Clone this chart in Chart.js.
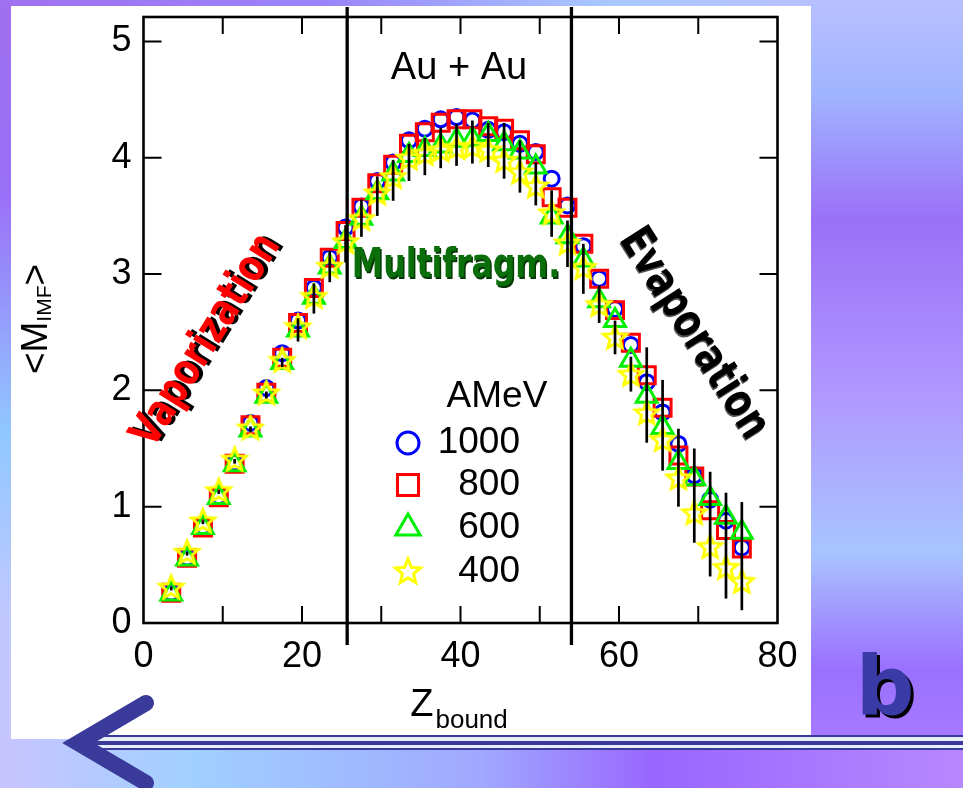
<!DOCTYPE html>
<html>
<head>
<meta charset="utf-8">
<script src="https://cdn.jsdelivr.net/npm/chart.js@4.4.1/dist/chart.umd.min.js"></script>
<style>
  html, body { margin: 0; padding: 0; overflow: hidden; background: #fff; }
  canvas { display: block; }
</style>
</head>
<body>
<canvas id="chart" width="963" height="788"></canvas>
<script>
// data: <M_IMF> vs Z_bound, Au + Au
const zBound = [3.5, 5.5, 7.5, 9.5, 11.5, 13.5, 15.5, 17.5, 19.5, 21.5, 23.5, 25.5, 27.5, 29.5, 31.5,
  33.5, 35.5, 37.5, 39.5, 41.5, 43.5, 45.5, 47.5, 49.5, 51.5, 53.5, 55.5, 57.5, 59.5, 61.5, 63.5,
  65.5, 67.5, 69.5, 71.5, 73.5, 75.5];
const m1000 = [0.26, 0.56, 0.83, 1.09, 1.38, 1.72, 2.02, 2.32, 2.60, 2.88, 3.14, 3.40, 3.58, 3.80, 3.96,
  4.15, 4.25, 4.33, 4.35, 4.32, 4.24, 4.22, 4.12, 4.05, 3.82, 3.59, 3.24, 2.96, 2.70, 2.39, 2.07,
  1.81, 1.54, 1.27, 1.06, 0.88, 0.65];
const m800 = [0.26, 0.56, 0.82, 1.08, 1.37, 1.70, 1.98, 2.28, 2.58, 2.88, 3.14, 3.37, 3.57, 3.78, 3.94,
  4.12, 4.22, 4.30, 4.33, 4.33, 4.27, 4.25, 4.15, 4.03, 3.66, 3.57, 3.26, 2.96, 2.69, 2.41, 2.13,
  1.85, 1.44, 1.26, 0.97, 0.80, 0.64];
const m600 = [0.25, 0.55, 0.82, 1.08, 1.36, 1.66, 1.95, 2.24, 2.52, 2.80, 3.06, 3.28, 3.48, 3.70, 3.86,
  4.02, 4.07, 4.10, 4.15, 4.16, 4.20, 4.12, 4.05, 3.92, 3.49, 3.32, 3.12, 2.77, 2.60, 2.26, 1.95,
  1.68, 1.38, 1.24, 1.07, 0.91, 0.78];
const m400 = [0.30, 0.60, 0.87, 1.13, 1.40, 1.67, 1.97, 2.25, 2.54, 2.80, 3.06, 3.27, 3.47, 3.69, 3.83,
  3.99, 4.03, 4.06, 4.08, 4.09, 4.06, 3.97, 3.87, 3.75, 3.52, 3.26, 3.05, 2.73, 2.45, 2.13, 1.80,
  1.57, 1.24, 0.94, 0.65, 0.47, 0.35];
// black error bars (top / bottom ends)
const errHigh = [0.31, 0.61, 0.88, 1.14, 1.41, 1.69, 1.99, 2.28, 2.62, 2.92, 3.20, 3.42, 3.64, 3.84, 3.98,
  4.12, 4.17, 4.26, 4.29, 4.32, 4.30, 4.30, 4.15, 3.96, 3.72, 3.46, 3.26, 2.90, 2.60, 2.29, 2.37,
  2.09, 1.67, 1.50, 1.30, 1.12, 1.04];
const errLow = [0.28, 0.58, 0.85, 1.11, 1.37, 1.64, 1.93, 2.20, 2.42, 2.66, 2.93, 3.10, 3.32, 3.50, 3.63,
  3.80, 3.85, 3.91, 3.93, 3.95, 3.92, 3.82, 3.70, 3.59, 3.32, 3.06, 2.83, 2.58, 2.31, 1.99, 1.55,
  1.31, 1.00, 0.69, 0.40, 0.21, 0.11];

const xTickValues = [0, 20, 40, 60, 80];
const xTickMarks = [10, 20, 30, 40, 50, 60, 70];
const yTickValues = [0, 1, 2, 3, 4, 5];
const regionLimits = [25.7, 54.0];
const seriesLabels = ['1000', '800', '600', '400'];
const legendTitle = 'AMeV';
const systemLabel = 'Au + Au';
const regionNames = ['Vaporization', 'Multifragm.', 'Evaporation'];

const SANS = "'Liberation Sans', Arial, Helvetica, sans-serif";
const COMIC = "'Comic Sans MS', 'DejaVu Sans', sans-serif";

function starPath(g, cx, cy, R) {
  const r = R * 0.45;
  g.beginPath();
  for (let k = 0; k < 10; k++) {
    const a = -Math.PI / 2 + k * Math.PI / 5;
    const rr = k % 2 ? r : R;
    g.lineTo(cx + rr * Math.cos(a), cy + rr * Math.sin(a));
  }
  g.closePath();
}
function starCanvas(R, lw, color) {
  const s = 2 * Math.ceil(R + lw + 2);
  const c = document.createElement('canvas');
  c.width = s; c.height = s;
  const g = c.getContext('2d');
  starPath(g, s / 2, s / 2, R);
  g.strokeStyle = color; g.lineWidth = lw; g.lineJoin = 'miter';
  g.stroke();
  return c;
}

function drawMarker(c, type, x, y, r, color, lw) {
  c.save();
  c.strokeStyle = color; c.lineWidth = lw;
  c.beginPath();
  if (type === 'circle') c.arc(x, y, r, 0, Math.PI * 2);
  else if (type === 'rect') c.rect(x - r, y - r, 2 * r, 2 * r);
  else if (type === 'triangle') {
    c.moveTo(x, y - r);
    c.lineTo(x + r * 0.866, y + r * 0.5);
    c.lineTo(x - r * 0.866, y + r * 0.5);
    c.closePath();
  } else starPath(c, x, y, r);
  c.stroke();
  c.restore();
}

function fitFont(c, text, weight, family, width) {
  c.font = weight + ' 100px ' + family;
  const size = 100 * width / c.measureText(text).width;
  c.font = weight + ' ' + size.toFixed(1) + 'px ' + family;
}

function shadowText(c, text, x, y, angle, stretch, color, shadow, off) {
  c.save();
  c.translate(x, y);
  c.rotate(angle);
  c.scale(1, stretch);
  c.textAlign = 'center';
  c.textBaseline = 'middle';
  c.fillStyle = shadow;
  c.fillText(text, off, off);
  c.fillStyle = color;
  c.fillText(text, 0, 0);
  c.restore();
}

const slidePlugin = {
  id: 'slide',
  beforeDraw(chart) {
    const c = chart.ctx, W = chart.width, H = chart.height;
    c.save();
    let g = c.createLinearGradient(0, 0, 0, H);
    g.addColorStop(0, '#b8c0ff'); g.addColorStop(0.12, '#a0b4ff'); g.addColorStop(0.28, '#9a70f8');
    g.addColorStop(0.5, '#b098ff'); g.addColorStop(0.7, '#a8c4ff'); g.addColorStop(0.85, '#9a70ff');
    g.addColorStop(1, '#b080ff');
    c.fillStyle = g; c.fillRect(0, 0, W, H);
    g = c.createLinearGradient(0, 0, 0, H);
    g.addColorStop(0, '#a070f0'); g.addColorStop(0.25, '#9a70f8'); g.addColorStop(0.55, '#90c8ff');
    g.addColorStop(0.78, '#c0c8ff'); g.addColorStop(1, '#c8c4ff');
    c.fillStyle = g; c.fillRect(0, 0, 12, H);
    g = c.createLinearGradient(0, 0, 811, 0);
    g.addColorStop(0, '#a070f0'); g.addColorStop(0.4, '#9a84f8'); g.addColorStop(0.75, '#a8c8ff');
    g.addColorStop(1, '#b8c0ff');
    c.fillStyle = g; c.fillRect(0, 0, 811, 6);
    g = c.createLinearGradient(0, 0, W, 0);
    g.addColorStop(0, '#c8c4ff'); g.addColorStop(0.2, '#a0d0ff'); g.addColorStop(0.5, '#a0a8ff');
    g.addColorStop(0.68, '#9966ff'); g.addColorStop(1, '#b888ff');
    c.fillStyle = g; c.fillRect(0, 739, W, H - 739);
    c.fillStyle = '#ffffff';
    c.fillRect(11, 6, 800, 733);
    c.restore();
  },
  afterDraw(chart) {
    const c = chart.ctx, W = chart.width;
    c.save();
    // navigation lines and arrow
    c.fillStyle = '#e8ecff';
    c.fillRect(92, 737, W - 92, 12);
    c.fillStyle = '#3a3a9a';
    c.fillRect(92, 735, W - 92, 2);
    c.fillRect(92, 741, W - 92, 4);
    c.fillRect(92, 748, W - 92, 2);
    c.strokeStyle = '#3a3a9a';
    c.lineWidth = 16; c.lineCap = 'round'; c.lineJoin = 'miter';
    c.beginPath();
    c.moveTo(146, 703); c.lineTo(78, 743); c.lineTo(146, 783);
    c.stroke();
    // slide letter
    c.font = 'bold 82px ' + COMIC;
    c.textAlign = 'center'; c.textBaseline = 'alphabetic';
    c.fillStyle = '#000';
    c.fillText('b', 888, 717);
    c.fillStyle = '#3b3ba8';
    c.fillText('b', 885, 714);
    c.restore();
  }
};

const framePlugin = {
  id: 'frame',
  afterDatasetsDraw(chart) {
    const c = chart.ctx, a = chart.chartArea;
    const xs = chart.scales.x, ys = chart.scales.y;
    c.save();
    c.strokeStyle = '#000';
    // error bars
    c.lineWidth = 2.7;
    zBound.forEach((z, i) => {
      const px = xs.getPixelForValue(z);
      c.beginPath();
      c.moveTo(px, ys.getPixelForValue(errHigh[i]));
      c.lineTo(px, ys.getPixelForValue(errLow[i]));
      c.stroke();
    });
    // region separators
    c.lineWidth = 3.3;
    regionLimits.forEach(v => {
      const px = xs.getPixelForValue(v);
      c.beginPath(); c.moveTo(px, 7); c.lineTo(px, 645); c.stroke();
    });
    // frame and inward ticks
    c.lineWidth = 2.6;
    c.strokeRect(a.left, a.top, a.right - a.left, a.bottom - a.top);
    c.lineWidth = 2;
    c.beginPath();
    xTickMarks.forEach(v => {
      const px = xs.getPixelForValue(v);
      c.moveTo(px, a.bottom); c.lineTo(px, a.bottom - 17);
      c.moveTo(px, a.top); c.lineTo(px, a.top + 17);
    });
    yTickValues.slice(1).forEach(v => {
      const py = ys.getPixelForValue(v);
      c.moveTo(a.left, py); c.lineTo(a.left + 18, py);
      c.moveTo(a.right, py); c.lineTo(a.right - 18, py);
    });
    c.stroke();
    c.restore();
  },
  afterDraw(chart) {
    const c = chart.ctx;
    c.save();
    c.fillStyle = '#000';
    c.textBaseline = 'alphabetic';
    // axis titles with subscripts
    c.font = '38px ' + SANS;
    const zw = c.measureText('Z').width;
    c.font = '26px ' + SANS;
    const bw = c.measureText('bound').width;
    let x0 = 459 - (zw + 2 + bw) / 2;
    c.textAlign = 'left';
    c.font = '38px ' + SANS; c.fillText('Z', x0, 716);
    c.font = '26px ' + SANS; c.fillText('bound', x0 + zw + 2, 728);

    c.translate(47, 319);
    c.rotate(-Math.PI / 2);
    c.font = '37px ' + SANS;
    const w1 = c.measureText('<M').width, w3 = c.measureText('>').width;
    c.font = '21px ' + SANS;
    const w2 = c.measureText('IMF').width;
    x0 = -(w1 + w2 + w3) / 2;
    c.font = '37px ' + SANS; c.fillText('<M', x0, 0);
    c.font = '21px ' + SANS; c.fillText('IMF', x0 + w1, 4);
    c.font = '37px ' + SANS; c.fillText('>', x0 + w1 + w2, 0);
    c.setTransform(1, 0, 0, 1, 0, 0);

    c.font = '38px ' + SANS;
    c.textAlign = 'center';
    c.fillText(systemLabel, 459, 79);

    // legend
    c.font = '37px ' + SANS;
    c.textBaseline = 'middle';
    c.fillText(legendTitle, 497, 397);
    const types = ['circle', 'rect', 'triangle', 'star'];
    const colors = ['#0000ff', '#ff0000', '#00ee00', '#ffff00'];
    const sizes = [11, 10.5, 14, 13];
    const rows = [443, 485, 528, 572];
    c.font = '37px ' + SANS;
    c.textAlign = 'right';
    seriesLabels.forEach((lab, i) => {
      drawMarker(c, types[i], 408, rows[i], sizes[i], colors[i], 3);
      c.fillStyle = '#000';
      c.fillText(lab, 520, rows[i]);
    });

    // region labels
    fitFont(c, regionNames[0], 'bold', COMIC, 242);
    shadowText(c, regionNames[0], 207, 341, -58 * Math.PI / 180, 1.3, '#ff0000', '#000', 2.5);
    fitFont(c, regionNames[1], 'bold', COMIC, 208);
    shadowText(c, regionNames[1], 456, 266, 0, 1.3, '#0a6e0a', '#063806', 1.5);
    fitFont(c, regionNames[2], 'bold', COMIC, 240);
    shadowText(c, regionNames[2], 693, 334, 57.5 * Math.PI / 180, 1.3, '#000', '#555', 1.2);
    c.restore();
  }
};

const pts = arr => zBound.map((z, i) => ({ x: z, y: arr[i] }));

new Chart(document.getElementById('chart'), {
  type: 'scatter',
  data: {
    datasets: [
      { label: seriesLabels[0], data: pts(m1000), pointStyle: 'circle', pointRadius: 7.5,
        borderColor: '#0000ff', backgroundColor: 'transparent', borderWidth: 3, order: 4 },
      { label: seriesLabels[1], data: pts(m800), pointStyle: 'rect', pointRadius: 12,
        borderColor: '#ff0000', backgroundColor: 'transparent', borderWidth: 3, order: 3 },
      { label: seriesLabels[2], data: pts(m600), pointStyle: 'triangle', pointRadius: 12,
        borderColor: '#00ee00', backgroundColor: 'transparent', borderWidth: 3, order: 2 },
      { label: seriesLabels[3], data: pts(m400), pointStyle: starCanvas(12, 3, '#ffff00'),
        borderColor: '#ffff00', backgroundColor: 'transparent', order: 1 }
    ]
  },
  options: {
    responsive: false,
    animation: false,
    events: [],
    layout: { padding: { left: 0, top: 17, right: 185.5, bottom: 0 } },
    plugins: { legend: { display: false }, tooltip: { enabled: false } },
    scales: {
      x: {
        type: 'linear', min: 0, max: 80,
        grid: { display: false, drawTicks: false },
        border: { display: false },
        ticks: { font: { family: SANS, size: 36 }, color: '#000', padding: 12, maxRotation: 0 },
        afterBuildTicks: s => { s.ticks = xTickValues.map(v => ({ value: v })); },
        afterFit: s => { s.height = 165; s.paddingLeft = 0; s.paddingRight = 0; }
      },
      y: {
        type: 'linear', min: 0, max: 5.21,
        grid: { display: false, drawTicks: false },
        border: { display: false },
        ticks: { font: { family: SANS, size: 36 }, color: '#000', padding: 12 },
        afterBuildTicks: s => { s.ticks = yTickValues.map(v => ({ value: v })); },
        afterFit: s => { s.width = 143.5; s.paddingTop = 0; s.paddingBottom = 0; }
      }
    }
  },
  plugins: [slidePlugin, framePlugin]
});
</script>
</body>
</html>
